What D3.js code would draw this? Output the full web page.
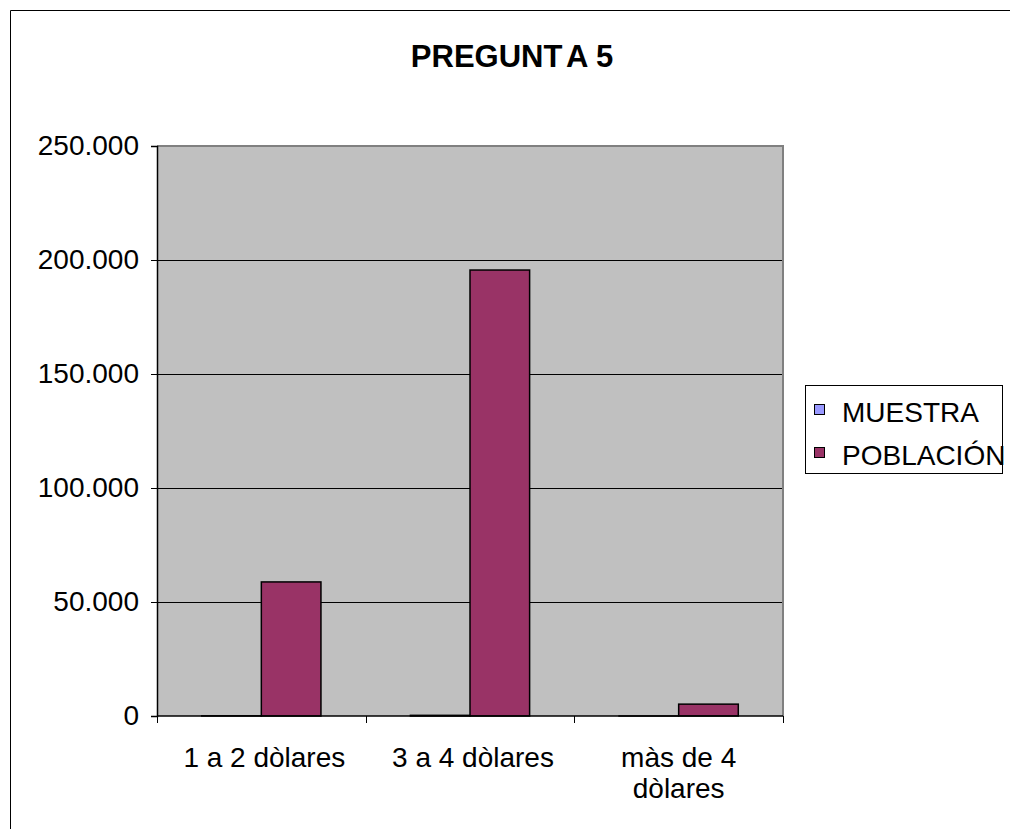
<!DOCTYPE html>
<html>
<head>
<meta charset="utf-8">
<script src="https://cdn.jsdelivr.net/npm/d3@7/dist/d3.min.js"></script>
<style>
  html, body { margin: 0; padding: 0; background: #fff; }
  svg { display: block; }
  text { font-family: "Liberation Sans", Arial, sans-serif; fill: #000; }
</style>
</head>
<body>
<svg id="chart" width="1010" height="829"></svg>
<script>
// Chart data
const categories = ["1 a 2 dòlares", "3 a 4 dòlares", "màs de 4 dòlares"];
const categoryLines = [["1 a 2 dòlares"], ["3 a 4 dòlares"], ["màs de 4", "dòlares"]];
const seriesNames = ["MUESTRA", "POBLACIÓN"];
const muestra = [87, 289, 8];
const poblacion = [58800, 195600, 5200];
const yTicks = [0, 50000, 100000, 150000, 200000, 250000];
const seriesColors = ["#9999FF", "#993366"];
const title = "PREGUNTA 5";

const svg = d3.select("#chart");
const W = 1010, H = 829;
const plot = { left: 157, right: 783, top: 146, bottom: 716 };

// Outer chart frame (top and left edges visible)
svg.append("rect").attr("x", 0).attr("y", 0).attr("width", W).attr("height", H).attr("fill", "#fff");
svg.append("line").attr("x1", 10.5).attr("x2", W).attr("y1", 10.5).attr("y2", 10.5).attr("stroke", "#000");
svg.append("line").attr("x1", 10.5).attr("x2", 10.5).attr("y1", 10.5).attr("y2", H).attr("stroke", "#000");

// Title
const t = svg.append("text").attr("x", 512).attr("y", 67)
  .attr("text-anchor", "middle").attr("font-size", 31).attr("font-weight", "bold");
t.append("tspan").text(title.slice(0, 7));
t.append("tspan").attr("dx", 6).text(title.slice(7));

// Scales
const x = d3.scaleBand().domain(categories).range([plot.left, plot.right]).padding(0);
const bw = x.bandwidth() / 3.5;
const xs = d3.scaleBand().domain(seriesNames).range([0.75 * bw, x.bandwidth() - 0.75 * bw]).padding(0);
const y = d3.scaleLinear().domain([0, 250000]).range([plot.bottom, plot.top]);

// Plot background
svg.append("rect")
  .attr("x", plot.left).attr("y", plot.top)
  .attr("width", plot.right - plot.left).attr("height", plot.bottom - plot.top)
  .attr("fill", "#C0C0C0");

// Gridlines
svg.append("g").selectAll("line").data(yTicks.filter(v => v > 0 && v < 250000)).join("line")
  .attr("x1", plot.left).attr("x2", plot.right)
  .attr("y1", d => Math.round(y(d)) + 0.5).attr("y2", d => Math.round(y(d)) + 0.5)
  .attr("stroke", "#000").attr("stroke-width", 1);

// Plot border (top and right)
svg.append("path")
  .attr("d", `M${plot.left},${plot.top} H${plot.right} V${plot.bottom}`)
  .attr("fill", "none").attr("stroke", "#808080").attr("stroke-width", 2);

// Bars
const seriesData = [muestra, poblacion];
const barData = [];
seriesNames.forEach((s, si) => {
  categories.forEach((c, ci) => {
    barData.push({ s, si, c, v: seriesData[si][ci] });
  });
});
svg.append("g").selectAll("rect").data(barData).join("rect")
  .attr("x", d => x(d.c) + xs(d.s))
  .attr("y", d => y(d.v))
  .attr("width", xs.bandwidth())
  .attr("height", d => y(0) - y(d.v))
  .attr("fill", d => seriesColors[d.si])
  .attr("stroke", "#000").attr("stroke-width", 1.5);

// Y axis
const loc = d3.formatLocale({ decimal: ",", thousands: ".", grouping: [3], currency: ["$", ""] });
const fmt = loc.format(",");
const yAxis = svg.append("g").attr("transform", `translate(${plot.left},0)`)
  .call(d3.axisLeft(y).tickValues(yTicks).tickFormat(fmt).tickSize(6).tickPadding(12));
yAxis.select(".domain").attr("stroke", "#000").attr("stroke-width", 1.5);
yAxis.selectAll(".tick line").attr("stroke", "#000");
yAxis.selectAll(".tick text").attr("font-size", 28).attr("font-family", "Liberation Sans, Arial, sans-serif").attr("fill", "#000");

// X axis line and tick marks at category boundaries
const xb = svg.append("g");
xb.append("line").attr("x1", plot.left).attr("x2", plot.right)
  .attr("y1", plot.bottom).attr("y2", plot.bottom).attr("stroke", "#000").attr("stroke-width", 1.5);
const bounds = categories.map(c => x(c)).concat([x.range()[1]]);
xb.selectAll("line.tk").data(bounds).join("line").attr("class", "tk")
  .attr("x1", d => Math.round(d) + 0.5).attr("x2", d => Math.round(d) + 0.5)
  .attr("y1", plot.bottom).attr("y2", plot.bottom + 7).attr("stroke", "#000");

// Category labels
const labelX = (d, i) => x(d) + x.bandwidth() / 2 + (categoryLines[i].length > 1 ? 0 : 3);
const lab = svg.append("g").selectAll("text").data(categories).join("text")
  .attr("x", labelX)
  .attr("y", 767)
  .attr("text-anchor", "middle").attr("font-size", 28);
lab.each(function (d, i) {
  d3.select(this).selectAll("tspan").data(categoryLines[i]).join("tspan")
    .attr("x", labelX(d, i))
    .attr("dy", (l, j) => j === 0 ? 0 : 31)
    .text(l => l);
});

// Legend
const lg = svg.append("g");
lg.append("rect").attr("x", 805.5).attr("y", 385.5).attr("width", 197).attr("height", 88)
  .attr("fill", "#fff").attr("stroke", "#000");
seriesNames.forEach((s, i) => {
  lg.append("rect").attr("x", 814.5).attr("y", 404.5 + i * 43).attr("width", 10).attr("height", 10)
    .attr("fill", seriesColors[i]).attr("stroke", "#000");
  lg.append("text").attr("x", 842).attr("y", 421.5 + i * 43).attr("font-size", 28).text(s);
});
</script>
</body>
</html>
